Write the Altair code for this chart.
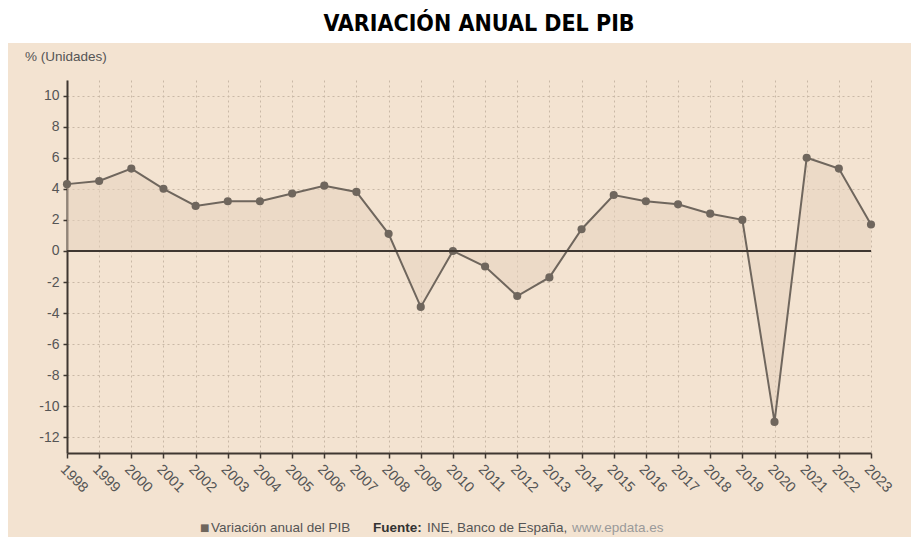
import altair as alt
import pandas as pd

years = list(range(1998, 2024))
values = [4.3, 4.5, 5.3, 4.0, 2.9, 3.2, 3.2, 3.7, 4.2, 3.8, 1.1, -3.6, 0.0,
          -1.0, -2.9, -1.7, 1.4, 3.6, 3.2, 3.0, 2.4, 2.0, -11.0, 6.0, 5.3, 1.7]
y_ticks = [-12, -10, -8, -6, -4, -2, 0, 2, 4, 6, 8, 10]
baseline = [0]

TITLE = "VARIACIÓN ANUAL DEL PIB"
UNIT = "% (Unidades)"
SERIES = "Variación anual del PIB"

df = pd.DataFrame({"year": years, "value": values})
zdf = pd.DataFrame({"value": baseline})
one = pd.DataFrame({"a": [0]})

W, H = 804, 373
PL, PT, PR, PB = 59, 72, 40, 84

BG = "#f3e3d1"
LINE = "#6f665d"
DARK = "#3f3731"
TXT = "#555555"
GRID = "#c9b8a6"

x = alt.X("year:Q", scale=alt.Scale(domain=[1998, 2023], nice=False, zero=False),
          axis=alt.Axis(values=years, format="d", title=None, grid=True,
                        gridDash=[2, 3], gridColor=GRID, gridWidth=1,
                        labelAngle=45, labelAlign="left", labelBaseline="top",
                        labelPadding=4, labelFontSize=14.5, labelColor=TXT,
                        labelFont="Liberation Sans", tickColor=DARK, tickSize=5,
                        tickWidth=1.5, domainColor=DARK, domainWidth=2,
                        labelOverlap=False))
y = alt.Y("value:Q", scale=alt.Scale(domain=[-13, 11], nice=False),
          axis=alt.Axis(values=y_ticks, title=None, grid=True,
                        gridDash=[2, 3], gridColor=GRID, gridWidth=1,
                        labelExpr="datum.value < 0 ? '-' + abs(datum.value) : '' + datum.value",
                        labelFontSize=14, labelColor=TXT, labelFont="Liberation Sans",
                        labelPadding=4, tickColor=DARK, tickSize=4, tickWidth=1.5,
                        domainColor=DARK, domainWidth=2, labelOverlap=False,
                        labelBound=False, labelFlush=False))

white = alt.Chart(one).mark_rect(color="#ffffff").encode(
    x=alt.value(-PL - 5), x2=alt.value(W + PR + 5), y=alt.value(-PT - 5), y2=alt.value(-37))

base = alt.Chart(df)
area = base.mark_area(color="#e6d2bd", opacity=0.5).encode(x=x, y=y, y2=alt.Y2(datum=0))
line = base.mark_line(color=LINE, strokeWidth=2).encode(x=x, y=y)
pts = base.mark_circle(color=LINE, opacity=1, size=66).encode(x=x, y=y)
zero = alt.Chart(zdf).mark_rule(color=DARK, strokeWidth=2).encode(y=y)

def txt(s, px, py, **kw):
    return alt.Chart(one).mark_text(**kw).encode(
        x=alt.value(px), y=alt.value(py), text=alt.value(s))

LY = 448
title = txt(TITLE, 412, -56, font="DejaVu Sans Condensed, Roboto", fontWeight="bold",
            fontSize=23, color="#000000", align="center", baseline="middle")
unit = txt(UNIT, -42, -23, font="Liberation Sans", fontSize=13.5, color=TXT,
           align="left", baseline="middle")
leg_sq = txt("■", 133, LY, font="DejaVu Sans", fontSize=10, color=LINE,
             align="left", baseline="middle")
leg_t = txt(SERIES, 144, LY, font="Liberation Sans", fontSize=13.5, color=TXT,
            align="left", baseline="middle")
src_b = txt("Fuente:", 306, LY, font="Liberation Sans", fontSize=13.5,
            fontWeight="bold", color="#333333", align="left", baseline="middle")
src_t = txt("INE, Banco de España,", 360, LY, font="Liberation Sans", fontSize=13.5,
            color=TXT, align="left", baseline="middle")
src_w = txt("www.epdata.es", 505, LY, font="Liberation Sans", fontSize=13.5,
            color="#9a9a9a", align="left", baseline="middle")

chart = alt.layer(white, area, line, pts, zero, title, unit, leg_sq, leg_t,
                  src_b, src_t, src_w).properties(
    width=W, height=H,
    autosize=alt.AutoSizeParams(type="none"),
    padding={"left": PL, "top": PT, "right": PR, "bottom": PB},
    background=BG,
).configure_view(stroke=None)

chart.save("out.html", embed_options={"renderer": "svg", "actions": False})
